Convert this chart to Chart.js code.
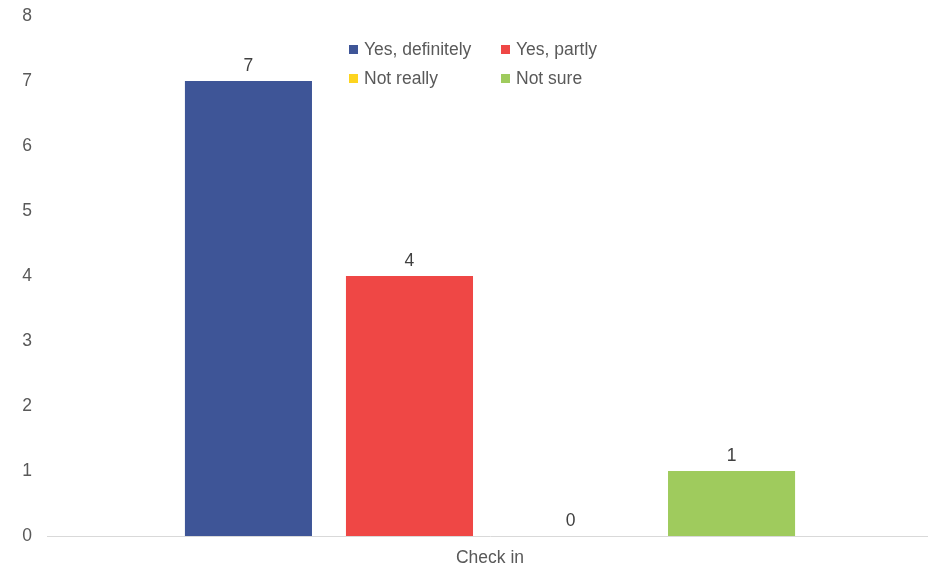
<!DOCTYPE html>
<html>
<head>
<meta charset="utf-8">
<script src="https://cdn.jsdelivr.net/npm/chart.js@4"></script>
<style>
  html, body { margin: 0; padding: 0; background: #fff; overflow: hidden; }
  /* plot runs slightly past the right edge, so the axis line reaches the border */
  #wrap { width: 933px; height: 571px; }
</style>
</head>
<body>
<div id="wrap"><canvas id="chart"></canvas></div>
<script>
// survey answers for the "Check in" question
const categories = ['Check in'];
const answerLabels = ['Yes, definitely', 'Yes, partly', 'Not really', 'Not sure'];
const answerCounts = [7, 4, 0, 1];
const answerColors = ['#3e5597', '#ef4745', '#fdd41f', '#9fcb5d'];
const yTicks = [0, 1, 2, 3, 4, 5, 6, 7, 8];

const FONT = "'Liberation Sans', Arial, sans-serif";
const FONT_SIZE = 17.5;

// value printed above every bar (zero included)
const valueLabels = {
    id: 'valueLabels',
    afterDatasetsDraw(chart) {
        const { ctx } = chart;
        ctx.save();
        ctx.font = `${FONT_SIZE}px ${FONT}`;
        ctx.fillStyle = '#404040';
        ctx.textAlign = 'center';
        ctx.textBaseline = 'middle';
        chart.data.datasets.forEach((ds, i) => {
            chart.getDatasetMeta(i).data.forEach((bar, j) => {
                ctx.fillText(String(ds.data[j]), bar.x, bar.y - 15);
            });
        });
        ctx.restore();
    }
};

// two-column legend sitting inside the plot area
const gridLegend = {
    id: 'gridLegend',
    afterDraw(chart) {
        const { ctx } = chart;
        const cols = [349, 501];
        const rows = [49, 78];
        ctx.save();
        ctx.font = `${FONT_SIZE}px ${FONT}`;
        ctx.textBaseline = 'middle';
        ctx.textAlign = 'left';
        chart.data.datasets.forEach((ds, i) => {
            const x = cols[i % 2];
            const y = rows[Math.floor(i / 2)];
            ctx.fillStyle = ds.backgroundColor;
            ctx.fillRect(x, y - 4, 9, 9);
            ctx.fillStyle = '#595959';
            ctx.fillText(ds.label, x + 15, y + 1);
        });
        ctx.restore();
    }
};

new Chart(document.getElementById('chart'), {
    type: 'bar',
    data: {
        labels: categories,
        datasets: answerLabels.map((label, i) => ({
            label,
            data: [answerCounts[i]],
            backgroundColor: answerColors[i],
            categoryPercentage: 0.727,
            barPercentage: 0.789
        }))
    },
    options: {
        responsive: true,
        maintainAspectRatio: false,
        animation: false,
        layout: { padding: { top: 16, right: 0, left: 0, bottom: 0 } },
        plugins: {
            legend: { display: false },
            tooltip: { enabled: false }
        },
        scales: {
            x: {
                grid: { display: false, drawTicks: false },
                border: { display: true, color: '#d9d9d9', width: 1 },
                ticks: { color: '#595959', font: { family: FONT, size: FONT_SIZE }, padding: 12 },
                afterFit(scale) { scale.height = 35; }
            },
            y: {
                min: 0,
                max: yTicks[yTicks.length - 1],
                afterBuildTicks(scale) { scale.ticks = yTicks.map(v => ({ value: v })); },
                grid: { display: false, drawTicks: false },
                border: { display: false },
                ticks: { color: '#595959', font: { family: FONT, size: FONT_SIZE }, padding: 15 },
                afterFit(scale) {
                    // fixed gutter; top/bottom spacing comes from layout padding only
                    scale.width = 47;
                    scale.paddingTop = 0;
                    scale.paddingBottom = 0;
                }
            }
        }
    },
    plugins: [valueLabels, gridLegend]
});
</script>
</body>
</html>
